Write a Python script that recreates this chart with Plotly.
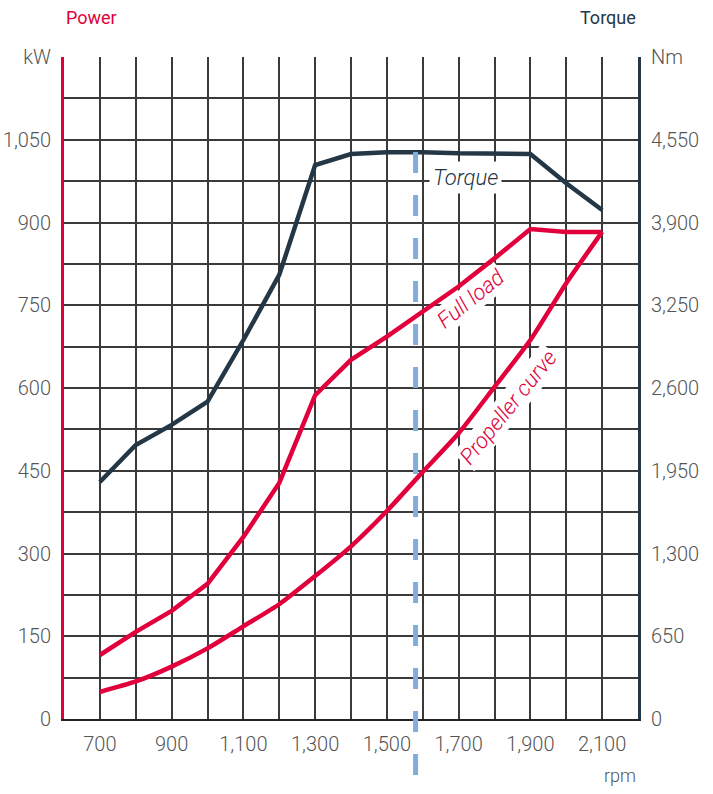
import plotly.graph_objects as go

# ---- data ----
rpm = [700, 800, 900, 1000, 1100, 1200, 1300, 1400, 1500, 1600, 1700, 1800, 1900, 2000, 2100]
torque_nm = [1862, 2152, 2310, 2492, 2977, 3488, 4351, 4438, 4452, 4452, 4443, 4438, 4438, 4208, 3998]
full_load_kw = [116, 158, 196, 245, 330, 428, 587, 651, 693, 738, 784, 835, 888, 883, 883]
propeller_kw = [49, 68, 95, 128, 168, 208, 259, 313, 377, 448, 518, 602, 687, 790, 883]
rated_rpm = 1580

x_ticks = list(range(600, 2201, 100))
x_labels = ["" if v in (600, 2200) or (v - 700) % 200 else f"{v:,}" for v in x_ticks]
kw_ticks = list(range(0, 1201, 75))
kw_labels = ["kW" if v == 1200 else (f"{v:,}" if v % 150 == 0 else "") for v in kw_ticks]
nm_ticks = list(range(0, 5201, 650))
nm_labels = ["Nm" if v == 5200 else f"{v:,}" for v in nm_ticks]

RED = "#E2003C"
NAVY = "#243746"
GRID = "#3a3a3a"
FONT = "Roboto, sans-serif"

fig = go.Figure()
fig.add_trace(go.Scatter(x=rpm, y=torque_nm, yaxis="y2", mode="lines",
                         line=dict(color=NAVY, width=4.5), name="Torque"))
fig.add_trace(go.Scatter(x=rpm, y=full_load_kw, mode="lines",
                         line=dict(color=RED, width=4.5), name="Full load"))
fig.add_trace(go.Scatter(x=rpm, y=propeller_kw, mode="lines",
                         line=dict(color=RED, width=4.5, shape="spline", smoothing=0.6),
                         name="Propeller curve"))

fig.add_shape(type="line", xref="x", yref="paper", x0=rated_rpm, x1=rated_rpm,
              y0=0.8565, y1=-0.0846, line=dict(color="#7FAEDC", width=5, dash="21px,22px"))

fig.add_annotation(x=1720, y=981, text="<i>Torque</i>", showarrow=False,
                   font=dict(family=FONT, size=22, color=NAVY, weight=300), bgcolor="white", borderpad=3)
fig.add_annotation(x=1734, y=763, text="<i>Full load</i>", showarrow=False, textangle=-39,
                   font=dict(family=FONT, size=22, color=RED, weight=300), bgcolor="white", borderpad=1)
fig.add_annotation(x=1838, y=564, text="<i>Propeller curve</i>", showarrow=False, textangle=-51,
                   font=dict(family=FONT, size=22, color=RED, weight=300), bgcolor="white", borderpad=1)

fig.add_annotation(xref="paper", yref="paper", x=0, y=1.0604, xanchor="left", yanchor="middle",
                   text="Power", showarrow=False, font=dict(family=FONT, size=18, color=RED))
fig.add_annotation(xref="paper", yref="paper", x=1, y=1.0604, xanchor="right", yanchor="middle",
                   text="Torque", showarrow=False, font=dict(family=FONT, size=18, color=NAVY))
fig.add_annotation(xref="paper", yref="paper", x=1, y=-0.0846, xanchor="right", yanchor="middle",
                   text="rpm", showarrow=False, font=dict(family=FONT, size=18, color="#555555", weight=300))

tick_font = dict(family=FONT, size=20, color="#555555", weight=300)
fig.update_layout(
    width=713, height=794,
    margin=dict(l=64, r=75, t=57, b=75),
    paper_bgcolor="white", plot_bgcolor="white",
    showlegend=False,
    xaxis=dict(range=[600, 2200], tickmode="array", tickvals=x_ticks, ticktext=x_labels,
               showgrid=True, gridcolor=GRID, gridwidth=1.5, zeroline=False, automargin=False,
               showline=True, linecolor="#222222", linewidth=2, ticks="",
               tickfont=tick_font, ticklabelstandoff=6),
    yaxis=dict(range=[0, 1200], tickmode="array", tickvals=kw_ticks, ticktext=kw_labels,
               showgrid=True, gridcolor=GRID, gridwidth=1.5, zeroline=False, automargin=False,
               showline=True, linecolor=RED, linewidth=3, ticks="",
               tickfont=tick_font, ticklabelstandoff=6),
    yaxis2=dict(range=[0, 5200], tickmode="array", tickvals=nm_ticks, ticktext=nm_labels,
                overlaying="y", side="right", showgrid=False, zeroline=False, automargin=False,
                showline=True, linecolor=NAVY, linewidth=3, ticks="",
                tickfont=tick_font, ticklabelstandoff=6),
)

fig.write_html("out.html", config={"displayModeBar": False},
               post_script="document.body.style.margin='0';document.body.style.overflow='hidden';")
